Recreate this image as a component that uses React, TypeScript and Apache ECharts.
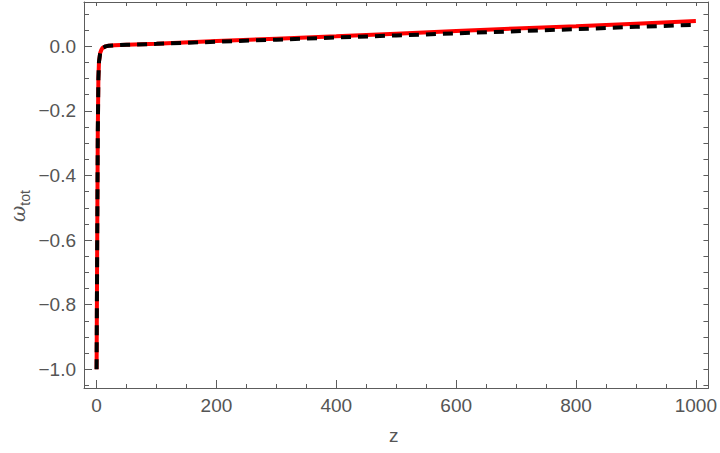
import React, { useEffect, useRef } from "react";
import * as echarts from "echarts";

const zValues = [0, 1, 2, 3, 4, 6, 8, 10, 15, 20, 30, 50, 100, 200, 300, 400, 500, 600, 700, 800, 900, 1000];
const redValues = [-1.0, -0.62, -0.27, -0.1, -0.048, -0.021, -0.011, -0.005, -0.0005, 0.0015, 0.0028, 0.0045, 0.008, 0.016, 0.0235, 0.031, 0.039, 0.047, 0.055, 0.062, 0.07, 0.078];
const blackValues = [-1.0, -0.62, -0.27, -0.1, -0.048, -0.021, -0.011, -0.005, -0.0005, 0.0015, 0.0028, 0.0045, 0.0075, 0.014, 0.0205, 0.027, 0.0335, 0.04, 0.0465, 0.053, 0.06, 0.0665];

const xMajorTicks = [0, 200, 400, 600, 800, 1000];
const xMinorTicks = [0, 50, 100, 150, 200, 250, 300, 350, 400, 450, 500, 550, 600, 650, 700, 750, 800, 850, 900, 950, 1000];
const yMajorTicks = [-1.0, -0.8, -0.6, -0.4, -0.2, 0.0];
const yMinorTicks = [-1.05, -1.0, -0.95, -0.9, -0.85, -0.8, -0.75, -0.7, -0.65, -0.6, -0.55, -0.5, -0.45, -0.4, -0.35, -0.3, -0.25, -0.2, -0.15, -0.1, -0.05, 0.0, 0.05, 0.1];

const X_MIN = -21;
const X_MAX = 1021;
const Y_MIN = -1.058;
const Y_MAX = 0.137;

const FRAME = "#5c5c5c";
const LABEL = "#555555";
const FONT = "Liberation Sans, Arial, sans-serif";

export default function App() {
  const ref = useRef<HTMLDivElement>(null);
  useEffect(() => {
    if (!ref.current) return;
    const chart = echarts.init(ref.current, null, { renderer: "svg" });
    const redData = zValues.map((z, i) => [z, redValues[i]]);
    const blackData = zValues.map((z, i) => [z, blackValues[i]]);
    const baseX = {
      type: "value",
      min: X_MIN,
      max: X_MAX,
      splitLine: { show: false },
    };
    const baseY = {
      type: "value",
      min: Y_MIN,
      max: Y_MAX,
      splitLine: { show: false },
    };
    chart.setOption({
      animation: false,
      backgroundColor: "#ffffff",
      grid: { left: 84, right: 8, top: 2, bottom: 65, containLabel: false },
      xAxis: [
        {
          ...baseX,
          position: "bottom",
          axisLine: { show: true, onZero: false, lineStyle: { color: FRAME, width: 1 } },
          axisTick: { show: true, inside: true, length: 8, lineStyle: { color: FRAME }, customValues: xMajorTicks },
          axisLabel: {
            show: true,
            customValues: xMajorTicks,
            color: LABEL,
            fontSize: 19,
            fontFamily: FONT,
            margin: 8,
            formatter: (v: number) => String(Math.round(v)),
          },
        },
        {
          ...baseX,
          position: "bottom",
          axisLine: { show: false, onZero: false },
          axisTick: { show: true, inside: true, length: 4, lineStyle: { color: FRAME }, customValues: xMinorTicks },
          axisLabel: { show: false },
        },
        {
          ...baseX,
          position: "top",
          axisLine: { show: true, onZero: false, lineStyle: { color: FRAME, width: 1 } },
          axisTick: { show: true, inside: true, length: 4, lineStyle: { color: FRAME }, customValues: xMinorTicks },
          axisLabel: { show: false },
        },
      ],
      yAxis: [
        {
          ...baseY,
          position: "left",
          axisLine: { show: true, onZero: false, lineStyle: { color: FRAME, width: 1 } },
          axisTick: { show: true, inside: true, length: 8, lineStyle: { color: FRAME }, customValues: yMajorTicks },
          axisLabel: {
            show: true,
            customValues: yMajorTicks,
            color: LABEL,
            fontSize: 19,
            fontFamily: FONT,
            margin: 8,
            formatter: (v: number) => (v < -1e-9 ? "\u2212" : "") + Math.abs(v).toFixed(1),
          },
        },
        {
          ...baseY,
          position: "left",
          axisLine: { show: false, onZero: false },
          axisTick: { show: true, inside: true, length: 5, lineStyle: { color: FRAME }, customValues: yMinorTicks },
          axisLabel: { show: false },
        },
        {
          ...baseY,
          position: "right",
          axisLine: { show: true, onZero: false, lineStyle: { color: FRAME, width: 1 } },
          axisTick: { show: true, inside: true, length: 5, lineStyle: { color: FRAME }, customValues: yMinorTicks },
          axisLabel: { show: false },
        },
      ],
      graphic: [
        {
          type: "text",
          left: 389,
          top: 426,
          style: {
            text: "z",
            fill: LABEL,
            font: "19px Liberation Sans, Arial, sans-serif",
          },
        },
        {
          type: "text",
          x: 8,
          y: 222,
          rotation: Math.PI / 2,
          style: {
            text: "{w|ω}{s|tot}",
            fill: LABEL,
            rich: {
              w: { fontSize: 20, fontFamily: "DejaVu Serif, serif", fontStyle: "italic", fill: LABEL, verticalAlign: "bottom" },
              s: { fontSize: 14, fontFamily: FONT, fill: LABEL, verticalAlign: "bottom", padding: [0, 0, -4, 0] },
            },
          },
        },
      ],
      series: [
        {
          type: "line",
          data: redData,
          xAxisIndex: 0,
          yAxisIndex: 0,
          showSymbol: false,
          smooth: false,
          lineStyle: { color: "#ff0000", width: 4 },
          z: 2,
        },
        {
          type: "line",
          data: blackData,
          xAxisIndex: 0,
          yAxisIndex: 0,
          showSymbol: false,
          smooth: false,
          lineStyle: { color: "#000000", width: 4, type: [10, 7] },
          z: 3,
        },
      ],
    });
    return () => chart.dispose();
  }, []);
  return (
    <div
      ref={ref}
      style={{ position: "absolute", left: 0, top: 0, width: 720, height: 453 }}
    />
  );
}
